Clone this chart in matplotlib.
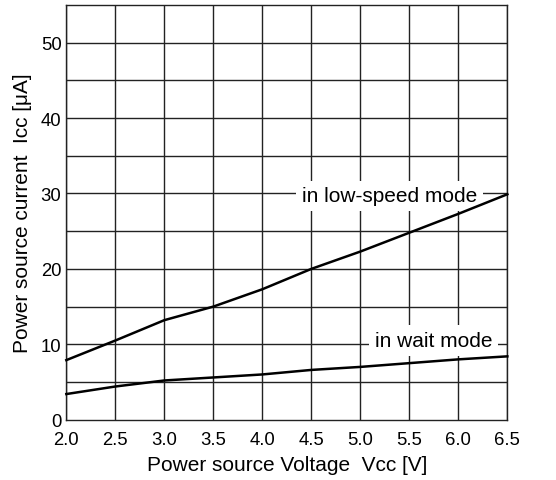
import matplotlib
matplotlib.use("Agg")
import matplotlib.pyplot as plt

plt.rcParams['font.family'] = ['Liberation Sans', 'DejaVu Sans']

voltage = [2.0, 2.5, 3.0, 3.5, 4.0, 4.5, 5.0, 5.5, 6.0, 6.5]
low_speed = [7.9, 10.5, 13.2, 15.0, 17.3, 20.0, 22.3, 24.8, 27.3, 29.9]
wait_mode = [3.4, 4.4, 5.2, 5.6, 6.0, 6.6, 7.0, 7.5, 8.0, 8.4]
x_ticks = [2.0, 2.5, 3.0, 3.5, 4.0, 4.5, 5.0, 5.5, 6.0, 6.5]
y_ticks = [0, 10, 20, 30, 40, 50]
y_grid = [5, 10, 15, 20, 25, 30, 35, 40, 45, 50]

fig = plt.figure(figsize=(5.56, 4.81), dpi=100)
ax = fig.add_axes([0.1193, 0.1254, 0.7932, 0.8621])
ax.set_xlim(2.0, 6.5)
ax.set_ylim(0, 55)

for x in x_ticks:
    ax.axvline(x, color='#222222', lw=1.0, zorder=1)
for y in y_grid:
    ax.axhline(y, color='#222222', lw=1.0, zorder=1)

ax.plot(voltage, low_speed, color='black', lw=1.8, zorder=5, clip_on=False)
ax.plot(voltage, wait_mode, color='black', lw=1.8, zorder=5, clip_on=False)

ax.text(5.295, 29.7, 'in low-speed mode', ha='center', va='center', fontsize=15,
        bbox=dict(facecolor='white', edgecolor='none', pad=4), zorder=4)
ax.text(5.745, 10.5, 'in wait mode', ha='center', va='center', fontsize=15,
        bbox=dict(facecolor='white', edgecolor='none', pad=4), zorder=4)

ax.set_xticks(x_ticks)
ax.set_xticklabels([f'{v:.1f}' for v in x_ticks])
ax.set_yticks(y_ticks)
ax.set_yticklabels([str(v) for v in y_ticks])
ax.tick_params(axis='x', length=0, labelsize=13.3, pad=8)
ax.tick_params(axis='y', length=0, labelsize=13.3, pad=3.5)

for s in ax.spines.values():
    s.set_color('#222222')
    s.set_linewidth(1.0)

ax.set_xlabel('Power source Voltage  Vcc [V]', fontsize=15, labelpad=5)
ax.set_ylabel('Power source current  Icc [\u03bcA]', fontsize=15, labelpad=6)

fig.savefig('out.png', dpi=100)
